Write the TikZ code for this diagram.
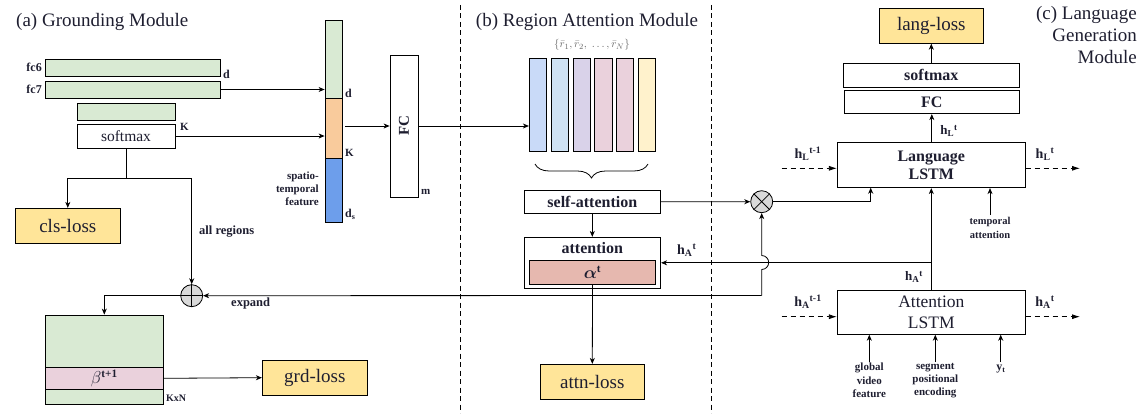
\documentclass[tikz,border=0pt]{standalone}
\usepackage{fontspec}
\setmainfont{Liberation Serif}
\usepackage{amsmath,bm}
\usetikzlibrary{arrows.meta,decorations.pathreplacing,calc}
\definecolor{txt}{HTML}{1E1E30}
\definecolor{cgreen}{HTML}{D9EAD3}
\definecolor{corange}{HTML}{F9CB9C}
\definecolor{cblue}{HTML}{6D9EEB}
\definecolor{cpink}{HTML}{EAD1DC}
\definecolor{closs}{HTML}{FFE599}
\definecolor{calpha}{HTML}{E6B8AF}
\definecolor{rA}{HTML}{C9DAF8}
\definecolor{rB}{HTML}{CFE2F3}
\definecolor{rC}{HTML}{D9D2E9}
\definecolor{rD}{HTML}{EAD1DC}
\definecolor{rF}{HTML}{FFF2CC}
\definecolor{cgray}{HTML}{D9D9D9}
\begin{document}
\begin{tikzpicture}[x=1pt,y=-1pt,
  fsz/.style 2 args={font=\fontsize{#1}{#2}\selectfont},
  bfz/.style 2 args={font=\fontsize{#1}{#2}\selectfont\bfseries},
  bx/.style={draw, line width=0.8pt, inner sep=0pt, text=txt},
  lbl/.style={inner sep=0pt, text=txt},
  arr/.style={line width=0.8pt, -{Stealth[length=6pt,width=5pt,inset=1.8pt]}},
  ln/.style={line width=0.8pt},
  darr/.style={line width=0.8pt, dash pattern=on 5pt off 4pt, -{Latex[length=8pt,width=5pt]}},
  sep/.style={line width=0.8pt, dash pattern=on 5pt off 3.5pt},
  opc/.style={draw, circle, fill=cgray, line width=0.8pt, minimum size=22pt, inner sep=0pt},
  loss/.style={bx, fill=closs, fsz={19}{22}},
]
\useasboundingbox (0,0) rectangle (1143,420);

% separators
\coordinate (s1t) at (460.7,5); \coordinate (s1b) at (460.7,413);
\coordinate (s2t) at (711.7,5); \coordinate (s2b) at (711.7,413);
\draw[sep] (s1t) -- (s1b);
\draw[sep] (s2t) -- (s2b);

% titles
\node[lbl, fsz={19}{22}, anchor=west] (ta) at (16,22) {(a) Grounding Module};
\node[lbl, fsz={19}{22}] (tb) at (587,22) {(b) Region Attention Module};
\node[lbl, fsz={19}{22}, anchor=north east, align=right] (tc) at (1137,6) {(c) Language\\Generation\\Module};

% ---------------- grounding module
\node[bx, fill=cgreen, minimum width=175pt, minimum height=17pt] (fc6) at (132.5,67.5) {};
\node[bx, fill=cgreen, minimum width=175pt, minimum height=17pt] (fc7) at (132.5,89.5) {};
\node[lbl, bfz={12}{14}, anchor=east] (fc6l) at (42,67.5) {fc6};
\node[lbl, bfz={12}{14}, anchor=east] (fc7l) at (42,89.5) {fc7};
\node[lbl, bfz={12}{14}, anchor=west] (fc6d) at (223,74) {d};
\node[bx, fill=cgreen, minimum width=98pt, minimum height=17pt] (g3) at (126,111.5) {};
\node[bx, fill=white, minimum width=98pt, minimum height=24pt, fsz={15.5}{18}] (smA) at (126,136) {softmax};
\node[lbl, bfz={11}{13}, anchor=west] (kA) at (180,127) {K};

\node[bx, fill=cgreen, minimum width=17pt, minimum height=78pt] (colG) at (333.5,59) {};
\node[bx, fill=corange, minimum width=17pt, minimum height=60pt] (colO) at (333.5,128) {};
\node[bx, fill=cblue, minimum width=17pt, minimum height=64pt] (colB) at (333.5,190) {};
\node[lbl, bfz={12}{14}, anchor=west] (cd) at (345,93) {d};
\node[lbl, bfz={11}{13}, anchor=west] (ck) at (345,153) {K};
\node[lbl, bfz={12}{14}, anchor=west] (cds) at (345,214) {d\textsubscript{s}};
\node[lbl, bfz={11}{13.2}, anchor=east, align=right] (stf) at (319,188.5) {spatio-\\temporal\\feature};

\draw[arr] (fc7.east) -- (fc7.east -| colG.west);
\draw[arr] (smA.east) -- (smA.east -| colO.west);

\node[bx, fill=white, minimum width=28pt, minimum height=142pt] (FCa) at (404,126) {};
\node[lbl, bfz={15}{17}, rotate=90] (FCal) at (404,126) {FC};
\node[lbl, bfz={11}{13}, anchor=west] (mlab) at (421,192) {m};
\coordinate (colout) at (345,126);
\draw[arr] (colout) -- (colout -| FCa.west);

% grounding bottom
\node[loss, minimum width=105pt, minimum height=35pt] (cls) at (67.8,225.8) {cls-loss};
\coordinate (sp) at (126,178.3);
\node[opc] (plus) at (191.7,295.7) {};
\draw[ln] (plus.north) -- (plus.south);
\draw[ln] (plus.west) -- (plus.east);
\draw[ln] (smA.south) -- (sp);
\draw[arr] (sp) -| (cls.north);
\draw[arr] (sp) -| (plus.north);
\node[lbl, bfz={12.5}{14}, anchor=west] (allr) at (199,232) {all regions};

\node[bx, fill=cgreen, minimum width=118pt, minimum height=89pt] (big) at (104.3,359.5) {};
\node[bx, fill=cpink, minimum width=118pt, minimum height=22pt, fsz={16}{18}] (band) at (104.3,378.3) {$\beta$\textsuperscript{\bfseries t+1}};
\node[lbl, bfz={10}{12}, anchor=west] (kxn) at (166,398.5) {KxN};
\draw[arr] (plus.west) -| (big.north);
\node[lbl, bfz={12.5}{14}, anchor=west] (expl) at (231,303) {expand};
\node[loss, minimum width=105pt, minimum height=35pt] (grd) at (314.8,377.7) {grd-loss};
\draw[arr] (band.east) -- (grd.west);

% ---------------- region attention
\foreach \i/\xx/\cc in {1/538/rA, 2/559.8/rB, 3/582/rC, 4/603.3/rD, 5/625/rD, 6/647/rF}{
  \node[bx, fill=\cc, minimum width=17.4pt, minimum height=93pt] (r\i) at (\xx,104.7) {};
}
\node[lbl, fsz={11}{13}, text=black!60] (rset) at (592,45) {$\{\bar{r}_1,\bar{r}_2,\;\ldots,\bar{r}_N\}$};
\draw[arr] (FCa.east) -- (FCa.east -| r1.west);
\coordinate (brR) at (648,164); \coordinate (brL) at (535,164);
\draw[ln, decorate, decoration={brace, amplitude=14pt}] (brR) -- (brL);

\node[bx, fill=white, minimum width=136.7pt, minimum height=23pt, bfz={16}{18}] (sa) at (592.3,201.8) {self-attention};
\node[bx, fill=white, minimum width=136.7pt, minimum height=51pt] (att) at (592.3,262.8) {};
\node[lbl, bfz={16}{18}] (attl) at (592.3,248) {attention};
\node[bx, fill=calpha, minimum width=126.4pt, minimum height=24pt, bfz={16}{18}] (alp) at (592.5,272.3) {$\bm{\alpha}$\textsuperscript{t}};
\draw[arr] (sa.south) -- (att.north);
\node[loss, minimum width=104pt, minimum height=35pt] (attloss) at (592.3,381.8) {attn-loss};
\draw[arr] (alp.south) -- (attloss.north);

\node[lbl, bfz={14}{16}] (hAatt) at (686.7,250) {h\textsubscript{A}\textsuperscript{t}};

% ---------------- language generation
\node[loss, minimum width=104pt, minimum height=35pt] (langloss) at (931.3,25.8) {lang-loss};
\node[bx, fill=white, minimum width=176pt, minimum height=24pt, bfz={16}{18}] (smC) at (931.3,75.3) {softmax};
\node[bx, fill=white, minimum width=175pt, minimum height=23.4pt, bfz={16}{18}] (FCc) at (931.8,102) {FC};
\node[bx, fill=white, minimum width=188pt, minimum height=45.4pt, bfz={16}{18.3}, align=center] (lang) at (931.3,165) {Language\\LSTM};
\node[bx, fill=white, minimum width=188pt, minimum height=44pt, fsz={17.5}{20.3}, align=center] (attL) at (931.3,312.3) {Attention\\LSTM};
\draw[arr] (smC.north) -- (langloss.south);
\draw[arr] (lang.north -| FCc.south) -- (FCc.south);
\draw[arr] (attL.north) -- (lang.south);
\node[lbl, bfz={13}{15}] (hLup) at (949,131) {h\textsubscript{L}\textsuperscript{t}};
\node[lbl, bfz={13}{15}] (hAup) at (914,277) {h\textsubscript{A}\textsuperscript{t}};

\coordinate (hLin) at (781.7,168.3);
\coordinate (hLout) at (1080,168.3);
\coordinate (hAin) at (781.7,316.7);
\coordinate (hAout) at (1080,316.7);
\draw[darr] (hLin) -- (hLin -| lang.west);
\draw[darr] (lang.east |- hLout) -- (hLout);
\draw[darr] (hAin) -- (hAin -| attL.west);
\draw[darr] (attL.east |- hAout) -- (hAout);
\node[lbl, bfz={14}{16}] (hLl) at (808,154) {h\textsubscript{L}\textsuperscript{t-1}};
\node[lbl, bfz={14}{16}] (hLr) at (1045,154) {h\textsubscript{L}\textsuperscript{t}};
\node[lbl, bfz={14}{16}] (hAl) at (808,302) {h\textsubscript{A}\textsuperscript{t-1}};
\node[lbl, bfz={14}{16}] (hAr) at (1045,302) {h\textsubscript{A}\textsuperscript{t}};

% multiplication node and links
\node[opc] (otimes) at (761.7,201.7) {};
\draw[ln] (otimes.north west) -- (otimes.south east);
\draw[ln] (otimes.north east) -- (otimes.south west);
\draw[arr] (sa.east) -- (otimes.west);
\coordinate (lin1) at (870.7,187.7);
\draw[arr] (otimes.east) -| (lin1);
\coordinate (tain) at (990,215);
\draw[arr] (tain) -- (tain |- lang.south);
\node[lbl, bfz={10.5}{14.3}, anchor=north, align=center] (tal) at (990,217) {temporal\\attention};

% hA to attention
\coordinate (hAj) at (attL.north |- att.east);
\draw[arr] (hAj) -- (att.east);
% junction: expand & to otimes
\coordinate (jn) at (761.7,295.5);
\draw[arr] (jn) -- (plus.east);
\draw[arr] (jn) -- ++(0,-26) arc[start angle=90, end angle=-90, radius=7] -- (otimes.south);

% bottom inputs
\coordinate (gvin) at (869.3,362);
\coordinate (spin) at (935.3,362);
\coordinate (ytin) at (1000.7,362);
\draw[arr] (gvin) -- (gvin |- attL.south);
\draw[arr] (spin) -- (spin |- attL.south);
\draw[arr] (ytin) -- (ytin |- attL.south);
\node[lbl, bfz={11}{13.3}, anchor=north, align=center] (gvl) at (869.3,363) {global\\video\\feature};
\node[lbl, bfz={11}{13.3}, anchor=north, align=center] (spl) at (935.3,363) {segment\\positional\\encoding};
\node[lbl, bfz={12}{14}, anchor=north] (ytl) at (1001,365) {y\textsubscript{t}};
\end{tikzpicture}
\end{document}
